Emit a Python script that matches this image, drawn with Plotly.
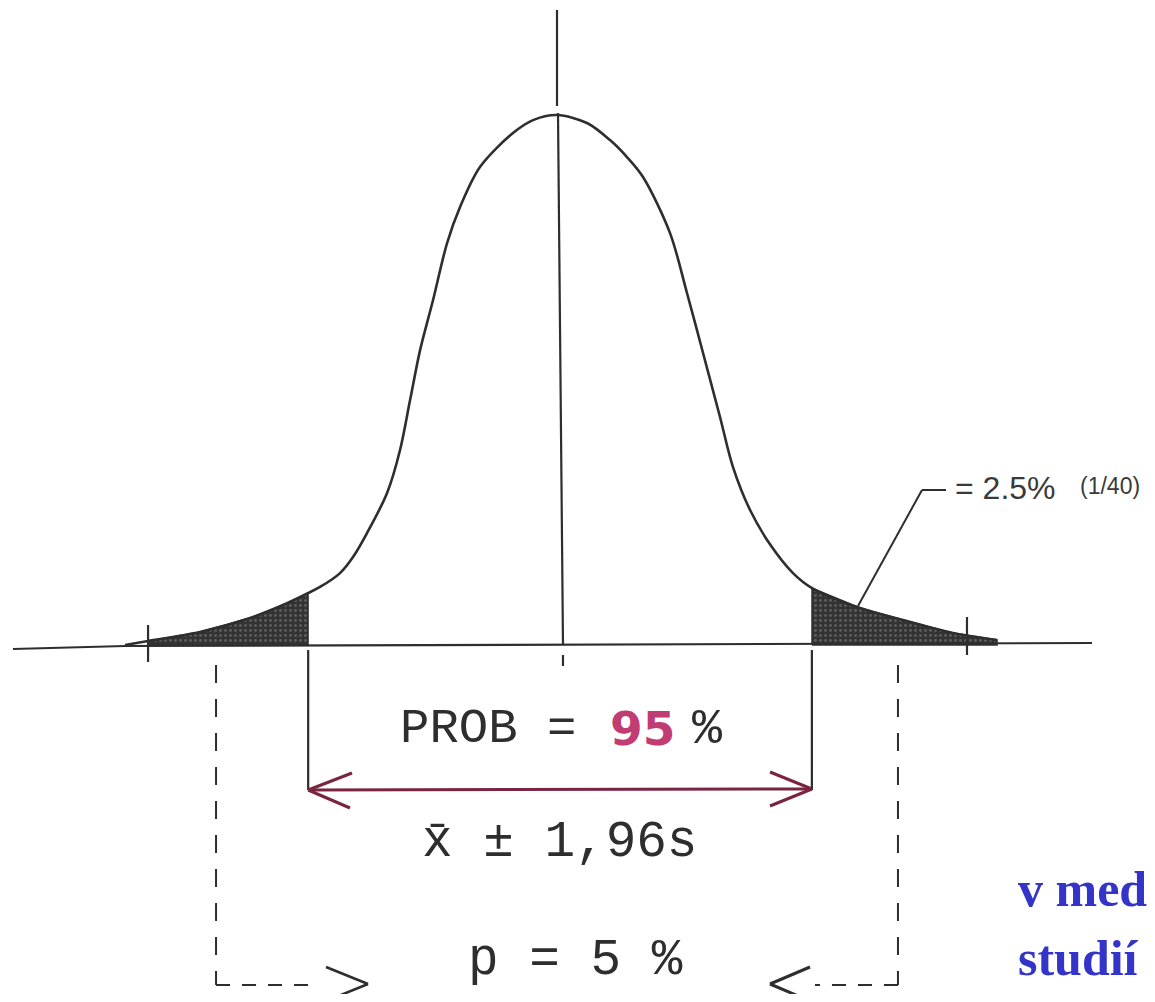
import plotly.graph_objects as go

# ---------------- data ----------------
# standardized position (in units of s) and drawn curve height (density units)
curve_z = [-3.385, -3.206, -2.802, -2.412, -2.156, -1.961, -1.868, -1.712, -1.611, -1.502,
           -1.346, -1.245, -1.167, -1.089, -0.988, -0.879, -0.778, -0.623, -0.366, -0.210,
           -0.023, 0.210, 0.389, 0.521, 0.646, 0.856, 0.988, 1.113, 1.245, 1.346,
           1.479, 1.634, 1.813, 1.961, 2.335, 2.669, 3.058, 3.401]
curve_h = [0.0000, 0.0030, 0.0098, 0.0204, 0.0302, 0.0392, 0.0438, 0.0543, 0.0664, 0.0845,
           0.1147, 0.1472, 0.1849, 0.2226, 0.2604, 0.3034, 0.3306, 0.3608, 0.3864, 0.3962,
           0.4000, 0.3940, 0.3811, 0.3683, 0.3532, 0.3109, 0.2657, 0.2204, 0.1721, 0.1343,
           0.1019, 0.0760, 0.0543, 0.0430, 0.0279, 0.0189, 0.0091, 0.0038]
z_crit = [-1.96, 1.96]          # x̄ ± 1,96 s
tail_end = [-3.206, 3.401]      # where the shaded tails end
tail_marks = [-3.206, 3.167]    # small end ticks
dash_marks = [-2.677, 2.630]    # dashed guide lines for the two tails
prob_inside = "95"
prob_tails = "p = 5 %"
tail_label = "= 2.5%"
tail_frac = "(1/40)"

# ---------------- page <-> data helpers (layout only) ----------------
W, H = 1139, 986        # figure size (body margin of 8px around)
OFF = 8
X0, X1 = -4.296, 4.568
Y0, Y1 = -0.2634, 0.4808


def X(px):
    return X0 + (px - OFF) / W * (X1 - X0)


def Y(py):
    return Y1 - (py - OFF) / H * (Y1 - Y0)


INK = "#2e2e2e"
fig = go.Figure()


def tail_poly(lo, hi):
    xs = [z for z in curve_z if lo <= z <= hi]
    ys = [h for z, h in zip(curve_z, curve_h) if lo <= z <= hi]
    return [xs[0]] + xs + [xs[-1], xs[0]], [0] + ys + [0, 0]

# shaded tails
for lo, hi in [(tail_end[0], z_crit[0] - 0.001), (z_crit[1] + 0.001, tail_end[1])]:
    px_, py_ = tail_poly(lo, hi)
    fig.add_trace(go.Scatter(x=px_, y=py_, mode="lines", fill="toself",
                             fillcolor="#333333", line=dict(color=INK, width=1.5),
                             fillpattern=dict(shape=".", bgcolor="#333333",
                                              fgcolor="#8a8a8a", size=5, solidity=0.25),
                             hoverinfo="skip", showlegend=False))

# curve
fig.add_trace(go.Scatter(x=curve_z, y=curve_h, mode="lines",
                         line=dict(color=INK, width=2.6, shape="spline", smoothing=0.9),
                         hoverinfo="skip", showlegend=False))

# baseline
fig.add_trace(go.Scatter(x=[X(13), curve_z[0], X(1092)], y=[Y(649), Y(646), Y(643)],
                         mode="lines", line=dict(color=INK, width=2.2),
                         hoverinfo="skip", showlegend=False))

# centre line (mean), with a small break just above the peak
fig.add_trace(go.Scatter(x=[X(557), X(557), None, X(558), X(563)],
                         y=[Y(10), Y(106), None, Y(113), 0], mode="lines",
                         line=dict(color=INK, width=2.2), hoverinfo="skip", showlegend=False))

shapes = []


def seg(x0, y0, x1, y1, color=INK, width=2.2, dash=None):
    d = dict(type="line", xref="x", yref="y", x0=x0, y0=y0, x1=x1, y1=y1,
             line=dict(color=color, width=width))
    if dash:
        d["line"]["dash"] = dash
    shapes.append(d)

# small ticks
seg(0.023, Y(655), 0.023, Y(666))
seg(tail_marks[0], Y(625), tail_marks[0], Y(662))
seg(tail_marks[1], Y(617), tail_marks[1], Y(655))
# verticals at ±1.96 s
for zc in z_crit:
    seg(zc, Y(650), zc, Y(790), width=2.2)
# dashed guides for the two tails
for zd in dash_marks:
    seg(zd, Y(665), zd, Y(985), dash="18px,16px", width=2)
seg(dash_marks[0], Y(985), X(308), Y(985), dash="14px,12px", width=2)
seg(dash_marks[1], Y(985), X(815), Y(985), dash="14px,12px", width=2)
# '>' and '<' heads
seg(X(326), Y(967), X(368), Y(984), width=2.6)
seg(X(368), Y(984), X(326), Y(1001), width=2.6)
seg(X(810), Y(967), X(770), Y(984), width=3)
seg(X(770), Y(984), X(810), Y(1001), width=3)

# 95 % double arrow
RED = "#7a2540"
seg(z_crit[0], Y(790), z_crit[1], Y(789), color=RED, width=3)
seg(z_crit[0], Y(790), X(352), Y(773), color=RED, width=3)
seg(z_crit[0], Y(790), X(350), Y(808), color=RED, width=3)
seg(z_crit[1], Y(789), X(770), Y(772), color=RED, width=3)
seg(z_crit[1], Y(789), X(770), Y(806), color=RED, width=3)

# leader to the tail label
seg(X(858), Y(606), X(922), Y(490), width=2)
seg(X(922), Y(490), X(946), Y(490), width=2)

MONO = "Liberation Mono, Courier New, monospace"
SANS = "Liberation Sans, Arial, sans-serif"
SERIF = "Liberation Serif, Times New Roman, serif"
ann = []


def text(t, px, py, size, color=INK, family=MONO, xanchor="left", yanchor="middle"):
    ann.append(dict(text=t, x=X(px), y=Y(py), xref="x", yref="y", showarrow=False,
                    xanchor=xanchor, yanchor=yanchor,
                    font=dict(size=size, color=color, family=family)))

text("PROB =", 398, 729, 49)
text("<b>" + prob_inside + "</b>", 608, 728, 47, color="#c23c74",
     family="DejaVu Sans, sans-serif")
text("%", 690, 729, 50)
text("x\u0304 \u00b1 1,96s", 420, 842, 51)
text(prob_tails, 575, 960, 51, xanchor="center")
text(tail_label, 953, 488, 32, color="#3a3a3a", family=SANS)
text(tail_frac, 1078, 486, 23, color="#3a3a3a", family=SANS)
BLUE = "#3434c8"
text("<b>v med</b>", 1016, 889, 50, color=BLUE, family=SERIF)
text("<b>studií</b>", 1016, 958, 50, color=BLUE, family=SERIF)

fig.update_layout(
    width=W, height=H, margin=dict(l=0, r=0, t=0, b=0),
    paper_bgcolor="white", plot_bgcolor="white",
    xaxis=dict(range=[X0, X1], visible=False, fixedrange=True),
    yaxis=dict(range=[Y0, Y1], visible=False, fixedrange=True),
    shapes=shapes, annotations=ann, showlegend=False,
)

fig.write_html("out.html")
